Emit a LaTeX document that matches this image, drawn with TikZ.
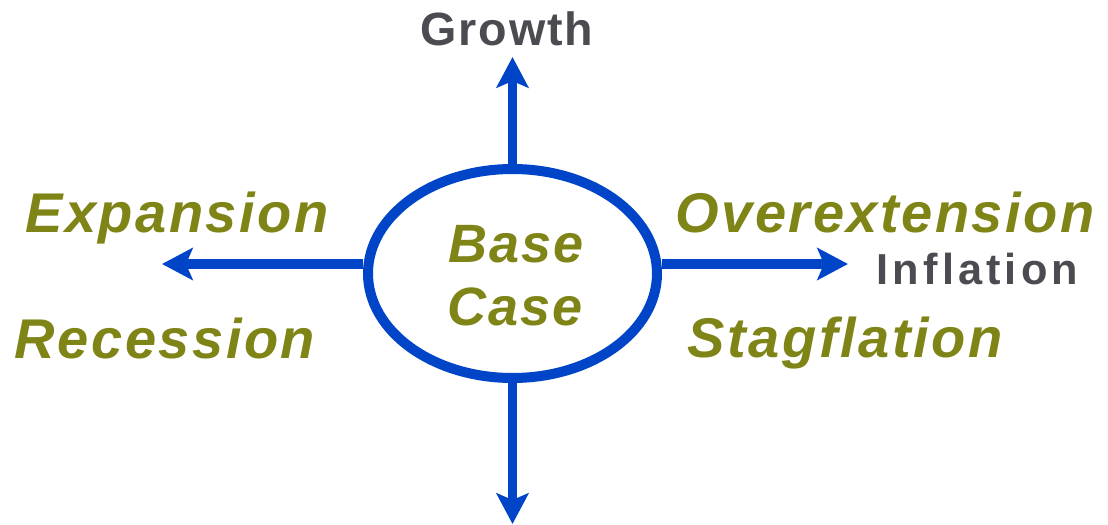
\documentclass[tikz,border=0pt]{standalone}
\usepackage{fontspec}
\setmainfont{Liberation Sans}
\newfontfamily\olivefont[LetterSpace=4.5]{Liberation Sans}
\newfontfamily\basefont[LetterSpace=4]{Liberation Sans}
\newfontfamily\growthfont[LetterSpace=4]{Liberation Sans}
\newfontfamily\inflfont[LetterSpace=9.5]{Liberation Sans}
\usetikzlibrary{arrows.meta,shapes.geometric}
\definecolor{axisblue}{HTML}{0044C8}
\definecolor{olivetxt}{HTML}{7F8417}
\definecolor{graytxt}{HTML}{4B4B52}
\begin{document}
\begin{tikzpicture}[x=0.75pt,y=-0.75pt,
  axis/.style={draw=axisblue,line width=7pt,-{Stealth[length=23pt,width=24pt,inset=5pt]}},
  scen/.style={text=olivetxt,inner sep=0pt,anchor=base,font=\olivefont\bfseries\itshape\fontsize{42}{46}\selectfont},
  dimlab/.style={text=graytxt,inner sep=0pt,anchor=base}]
\useasboundingbox (0,0) rectangle (1108,525);
\node[draw=axisblue,line width=7.5pt,ellipse,inner sep=0pt,
  minimum width=216.75pt,minimum height=156.75pt] (bc) at (512.5,273.5) {};
\node[scen,font=\basefont\bfseries\itshape\fontsize{40.5}{44}\selectfont] (base) at (516,262) {Base};
\node[scen,font=\basefont\bfseries\itshape\fontsize{40.5}{44}\selectfont] (case) at (515,325) {Case};
\coordinate (T) at (512.5,57);
\coordinate (B) at (512.5,524);
\coordinate (L) at (162,264);
\coordinate (R) at (848,264);
\draw[axis] (bc.north) -- (T);
\draw[axis] (bc.south) -- (B);
\draw[axis] (bc.west |- L) -- (L);
\draw[axis] (bc.east |- R) -- (R);
\node[dimlab,font=\growthfont\bfseries\fontsize{35}{38}\selectfont] (growth) at (507,45) {Growth};
\node[dimlab,font=\inflfont\bfseries\fontsize{32.5}{35}\selectfont] (infl) at (977.5,284) {Inflation};
\node[scen] (exp) at (177,232) {Expansion};
\node[scen] (rec) at (165,358) {Recession};
\node[scen] (over) at (885,232) {Overextension};
\node[scen] (stag) at (845,357) {Stagflation};
\end{tikzpicture}
\end{document}
